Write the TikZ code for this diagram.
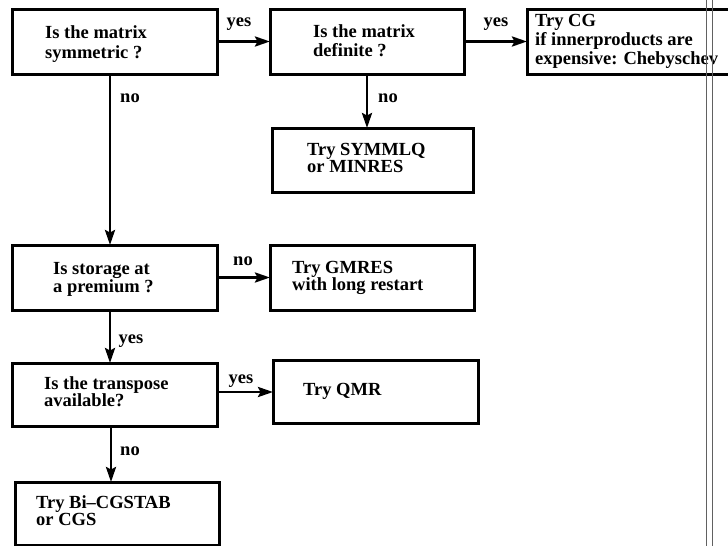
\documentclass[tikz,border=0pt]{standalone}
\usepackage{fontspec}
\setmainfont{Liberation Serif}
\usetikzlibrary{arrows.meta}
\begin{document}
\begin{tikzpicture}[x=1pt,y=-1pt,
  box/.style={draw, line width=3pt, rectangle, inner sep=0pt, outer sep=0pt, anchor=north west},
  txt/.style={anchor=base west, align=left, inner sep=0pt,
              font=\fontsize{18.5}{#1}\selectfont\bfseries},
  txt/.default=18,
  lbl/.style={anchor=base, inner sep=0pt, font=\fontsize{18.5}{18}\selectfont\bfseries},
  arrow/.style={line width=2.8pt, -{Stealth[length=15pt,width=10pt,inset=2.5pt]}},
  rule/.style={draw=black!62, line width=1.4pt}]
\useasboundingbox (0,0) rectangle (728,546);
\clip (0,0) rectangle (728,546);

% decision and advice boxes
\node[box, minimum width=205pt, minimum height=65pt] (sym)  at (12,9)    {};
\node[box, minimum width=194pt, minimum height=65pt] (def)  at (270,9)   {};
\node[box, minimum width=240pt, minimum height=65pt] (cg)   at (527,9)   {};
\node[box, minimum width=201pt, minimum height=64pt] (syml) at (272,128) {};
\node[box, minimum width=205pt, minimum height=65pt] (stor) at (12,245)  {};
\node[box, minimum width=204pt, minimum height=65pt] (gmr)  at (270,245) {};
\node[box, minimum width=205pt, minimum height=63pt] (trn)  at (12,363)  {};
\node[box, minimum width=205pt, minimum height=63pt] (qmr)  at (273,360) {};
\node[box, minimum width=204pt, minimum height=63pt] (bicg) at (15,482)  {};

% box texts (anchored on the baseline of the last line)
\node[txt=20]   (symT)  at ([shift={(33,49)}]sym.north west)    {Is the matrix\\symmetric ?};
\node[txt=19]   (defT)  at ([shift={(43,47.7)}]def.north west)  {Is the matrix\\definite ?};
\node[txt=19]   (cgT)   at ([shift={(8,55)}]cg.north west)      {Try CG\\if innerproducts are\\expensive: Chebyschev};
\node[txt=17]   (symlT) at ([shift={(35,44)}]syml.north west)   {Try SYMMLQ\\or MINRES};
\node[txt=18.5] (storT) at ([shift={(41,47.7)}]stor.north west) {Is storage at\\a premium ?};
\node[txt=17]   (gmrT)  at ([shift={(22,45)}]gmr.north west)    {Try GMRES\\with long restart};
\node[txt=17.7] (trnT)  at ([shift={(32,43.7)}]trn.north west)  {Is the transpose\\available?};
\node[txt]      (qmrT)  at ([shift={(30,35.7)}]qmr.north west)  {Try QMR};
\node[txt=17]   (bicgT) at ([shift={(21,43)}]bicg.north west)   {Try Bi–CGSTAB\\or CGS};

% connectors
\draw[arrow] (sym.east) -- (def.west);
\draw[arrow] (def.east) -- (cg.west);
\draw[arrow] (def.south) -- (syml.north -| def.south);
\draw[arrow] ([xshift=-4.5pt]sym.south) -- ([xshift=-4.5pt]stor.north);
\draw[arrow] (stor.east) -- (gmr.west);
\draw[arrow] ([xshift=-4.5pt]stor.south) -- ([xshift=-4.5pt]trn.north);
\draw[arrow] ([yshift=2.5pt]trn.east) -- ([yshift=2.5pt]trn.east -| qmr.west);
\draw[arrow] ([xshift=-3.5pt]trn.south) -- ([xshift=-3.5pt]trn.south |- bicg.north);

% connector labels
\node[lbl] (y1) at (239,26)  {yes};
\node[lbl] (y2) at (496,26)  {yes};
\node[lbl] (n1) at (130,102) {no};
\node[lbl] (n2) at (388,102) {no};
\node[lbl] (n3) at (243,265) {no};
\node[lbl] (y3) at (131,343) {yes};
\node[lbl] (y4) at (241,383) {yes};
\node[lbl] (n4) at (130,455) {no};

% double rule along the right margin
\draw[rule] (706.7,0) -- (706.7,546);
\draw[rule] (712.3,0) -- (712.3,546);
\end{tikzpicture}
\end{document}
